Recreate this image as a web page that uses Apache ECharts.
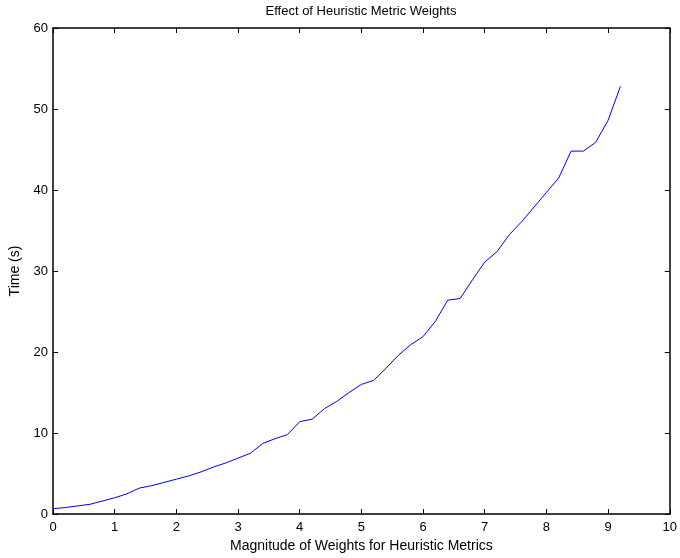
<!DOCTYPE html>
<html>
<head>
<meta charset="utf-8">
<script src="https://cdn.jsdelivr.net/npm/echarts@6/dist/echarts.min.js"></script>
<style>
  html, body { margin: 0; padding: 0; background: #fff; }
  #main { width: 680px; height: 558px; }
</style>
</head>
<body>
<div id="main"></div>
<script>
// weights (x) and time in seconds (y)
var weights = [0, 0.2, 0.4, 0.6, 0.8, 1.0, 1.2, 1.4, 1.6, 1.8,
               2.0, 2.2, 2.4, 2.6, 2.8, 3.0, 3.2, 3.4, 3.6, 3.8,
               4.0, 4.2, 4.4, 4.6, 4.8, 5.0, 5.2, 5.4, 5.6, 5.8,
               6.0, 6.2, 6.4, 6.6, 6.8, 7.0, 7.2, 7.4, 7.6, 7.8,
               8.0, 8.2, 8.4, 8.6, 8.8, 9.0, 9.2];
var times = [0.65, 0.8, 1.0, 1.2, 1.6, 2.0, 2.5, 3.2, 3.5, 3.9,
             4.3, 4.7, 5.2, 5.8, 6.3, 6.9, 7.5, 8.7, 9.3, 9.8,
             11.4, 11.7, 13.0, 13.9, 15.0, 16.0, 16.5, 18.0, 19.6, 20.9,
             21.9, 23.8, 26.4, 26.6, 28.9, 31.1, 32.4, 34.5, 36.1, 37.9,
             39.7, 41.5, 44.8, 44.8, 45.9, 48.6, 52.8];

var chart = echarts.init(document.getElementById('main'));

var pts = [];
for (var i = 0; i < weights.length; i++) {
    pts.push([weights[i], times[i]]);
}

var fnt = 'Liberation Sans, Arial, Helvetica, sans-serif';

// box axes: bottom/left carry labels, top/right just the line + inward ticks
var boxLine = { show: true, onZero: false, lineStyle: { color: '#000', width: 1.5 } };
var boxTick = { show: true, inside: true, length: 5, lineStyle: { color: '#000' } };

option = {
    backgroundColor: '#fff',
    animation: false,
    title: {
        text: 'Effect of Heuristic Metric Weights',
        left: 356, top: 0, textAlign: 'center',
        textStyle: { fontFamily: fnt, fontSize: 13, fontWeight: 'normal', color: '#000' }
    },
    grid: { left: 52, right: 7, top: 28, bottom: 41 },
    xAxis: [{
        type: 'value', min: 0, max: 10, interval: 1,
        name: 'Magnitude of Weights for Heuristic Metrics',
        nameLocation: 'middle', nameGap: 25,
        nameTextStyle: { fontFamily: fnt, fontSize: 14, color: '#000' },
        axisLine: boxLine,
        axisTick: boxTick,
        axisLabel: { fontFamily: fnt, fontSize: 13, color: '#000', margin: 7 },
        splitLine: { show: false }
    }, {
        type: 'value', min: 0, max: 10, interval: 1, position: 'top',
        axisLine: boxLine,
        axisTick: boxTick,
        axisLabel: { show: false },
        splitLine: { show: false }
    }],
    yAxis: [{
        type: 'value', min: 0, max: 60, interval: 10,
        name: 'Time (s)',
        nameLocation: 'middle', nameGap: 31,
        nameTextStyle: { fontFamily: fnt, fontSize: 14, color: '#000' },
        axisLine: boxLine,
        axisTick: boxTick,
        axisLabel: { fontFamily: fnt, fontSize: 13, color: '#000', margin: 5 },
        splitLine: { show: false }
    }, {
        type: 'value', min: 0, max: 60, interval: 10, position: 'right',
        axisLine: boxLine,
        axisTick: boxTick,
        axisLabel: { show: false },
        splitLine: { show: false }
    }],
    series: [{
        name: 'time',
        type: 'line',
        data: pts,
        showSymbol: false,
        lineStyle: { color: '#0000ff', width: 1 },
        itemStyle: { color: '#0000ff' }
    }]
};

chart.setOption(option);
</script>
</body>
</html>
